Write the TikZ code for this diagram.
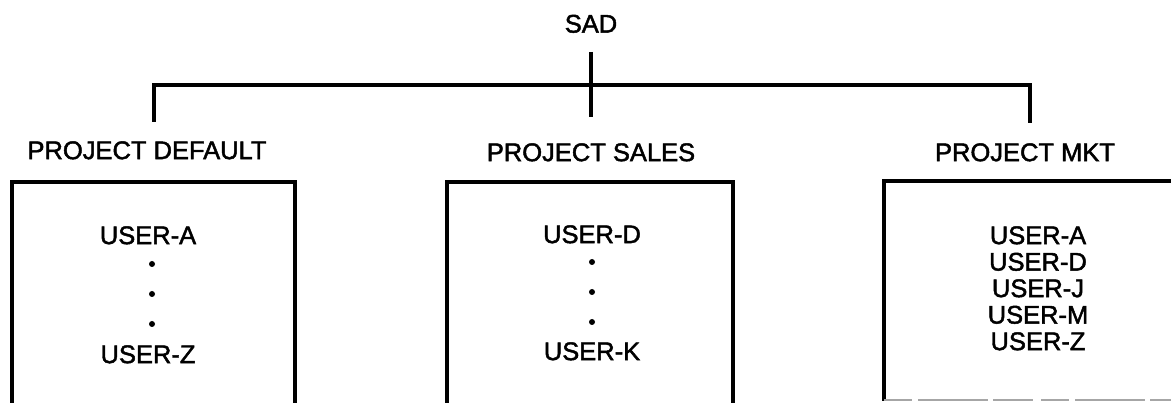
\documentclass[tikz,border=0pt]{standalone}
\usepackage{fontspec}
\setmainfont{Liberation Sans}
\newfontface\lblface{Liberation Sans}[FakeBold=1.8]
\begin{document}
\begin{tikzpicture}[x=1pt,y=-1pt,
  lbl/.style={font=\lblface\fontsize{25.5}{26}\selectfont, inner sep=0pt,
              text height=18.2pt, text depth=0pt, anchor=center},
  wire/.style={line width=3.4pt, line join=miter},
  dotmark/.style={circle, fill=black, inner sep=0pt, minimum size=6pt}]
  \useasboundingbox (0,0) rectangle (1171,403);
  \clip (0,0) rectangle (1171,403);

  % root and project labels
  \node[lbl] (sad)    at (591,23.5) {SAD};
  \node[lbl] (pdef)   at (147,150)  {PROJECT DEFAULT};
  \node[lbl] (psales) at (591,152)  {PROJECT SALES};
  \node[lbl] (pmkt)   at (1025,152) {PROJECT MKT};

  % tree connectors
  \coordinate (ttop) at (591,52);
  \coordinate (tbot) at (591,117);
  \coordinate (jL) at (154,85);
  \coordinate (jR) at (1030,85);
  \coordinate (dL) at (154,122);
  \coordinate (dR) at (1030,123);
  \draw[wire] (ttop) -- (tbot);
  \draw[wire] (dL) -- (jL) -- (jR) -- (dR);

  % project boxes (open at the bottom)
  \draw[wire] (12,420) -- (12,182) -- (295,182) -- (295,420);
  \draw[wire] (447,420) -- (447,182) -- (733,182) -- (733,420);
  \draw[wire] (884,401) -- (884,181) -- (1180,181);
  \draw[gray!70, line width=2pt, dash pattern=on 28pt off 6pt on 70pt off 5pt on 40pt off 8pt]
    (884,400.5) -- (1171,400.5);

  % members of PROJECT DEFAULT
  \node[lbl] (ua1) at (148,235) {USER-A};
  \node[dotmark] (d11) at (152,264) {};
  \node[dotmark] (d12) at (152,294) {};
  \node[dotmark] (d13) at (152,324) {};
  \node[lbl] (uz1) at (148,354) {USER-Z};

  % members of PROJECT SALES
  \node[lbl] (ud2) at (592,234) {USER-D};
  \node[dotmark] (d21) at (592,262) {};
  \node[dotmark] (d22) at (592,292) {};
  \node[dotmark] (d23) at (592,322) {};
  \node[lbl] (uk2) at (592,351) {USER-K};

  % members of PROJECT MKT
  \node[lbl] (ua3) at (1038,235)   {USER-A};
  \node[lbl] (ud3) at (1038,261.5) {USER-D};
  \node[lbl] (uj3) at (1038,288)   {USER-J};
  \node[lbl] (um3) at (1038,314.5) {USER-M};
  \node[lbl] (uz3) at (1038,341)   {USER-Z};
\end{tikzpicture}
\end{document}
